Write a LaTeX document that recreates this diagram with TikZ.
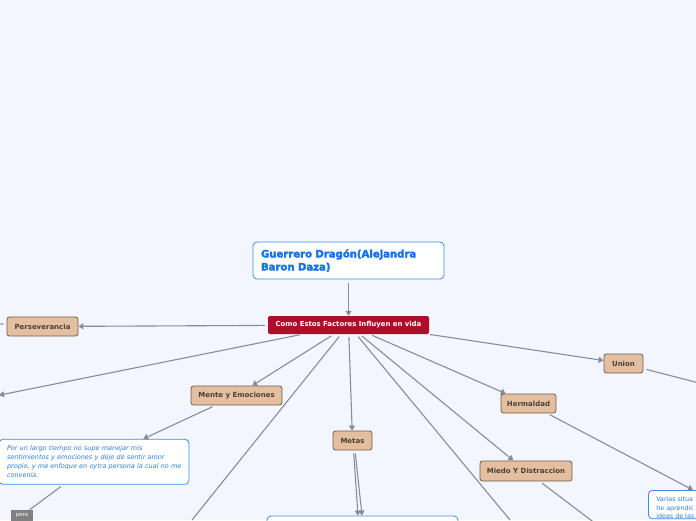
\documentclass[tikz,border=0pt]{standalone}
\usepackage{fontspec}
\setmainfont{DejaVu Sans}
\newfontfamily\titlefont[BoldFeatures={FakeBold=3}]{DejaVu Sans}
\usetikzlibrary{arrows.meta}
\definecolor{bg}{HTML}{F3F6FE}
\definecolor{titleblue}{HTML}{1A73E8}
\definecolor{boxblue}{HTML}{3A8DEA}
\definecolor{notetext}{HTML}{2B7FE0}
\definecolor{centralred}{HTML}{B00D2B}
\definecolor{topicfill}{HTML}{E3BF9F}
\definecolor{topicdraw}{HTML}{6E5C4A}
\definecolor{topictext}{HTML}{4A4035}
\definecolor{edgegray}{HTML}{8B8B93}
\definecolor{perogray}{HTML}{808080}
\begin{document}
\begin{tikzpicture}[x=1pt,y=-1pt,
  topic/.style={draw=topicdraw, fill=topicfill, rounded corners=2.5pt, line width=0.8pt,
    text=topictext, font=\fontsize{7}{8}\selectfont\bfseries, inner sep=0pt},
  central/.style={fill=centralred, rounded corners=2pt, text=white,
    font=\fontsize{6.9}{8}\selectfont\bfseries, inner sep=0pt},
  titlebox/.style={draw=boxblue, fill=white, rounded corners=4pt, line width=0.8pt,
    text=titleblue, font=\titlefont\fontsize{10.1}{13}\selectfont\bfseries, align=left,
    inner xsep=8pt, inner ysep=0pt},
  notebox/.style={draw=boxblue, fill=white, rounded corners=4pt, line width=0.8pt,
    text=notetext, align=left, inner xsep=8pt, inner ysep=0pt},
  perolabel/.style={fill=perogray, text=white, font=\fontsize{5.5}{7}\selectfont,
    inner sep=0pt, minimum width=22pt, minimum height=11pt},
  arr/.style={draw=edgegray, line width=1.1pt, -{Triangle[length=5pt,width=6pt]},
    shorten <=3pt},
  ln/.style={draw=edgegray, line width=1.1pt, shorten <=3pt}
]
\path[use as bounding box, fill=bg] (0,0) rectangle (696,520);
\clip (0,0) rectangle (696,520);

% nodes
\node[titlebox, minimum width=191pt, minimum height=37pt, text width=175pt] (title) at (348.5,260.5)
  {\mbox{Guerrero Dragón(Alejandra}\\Baron Daza)};
\node[central, minimum width=161pt, minimum height=18pt] (c) at (348.5,325)
  {Como Estos Factores Influyen en vida};
\node[topic, minimum width=71pt, minimum height=19pt] (pers) at (42.5,326.5) {Perseverancia};
\node[topic, minimum width=91pt, minimum height=19pt] (mente) at (236.5,395.5) {Mente y Emociones};
\node[topic, minimum width=39pt, minimum height=19pt] (metas) at (352.5,440.5) {Metas};
\node[topic, minimum width=55pt, minimum height=19pt] (herm) at (528.5,403.5) {Hermaldad};
\node[topic, minimum width=92pt, minimum height=20pt] (miedo) at (526,471) {Miedo Y Distraccion};
\node[topic, minimum width=39pt, minimum height=19pt] (union) at (623.5,363.5) {Union};

\node[notebox, minimum width=190pt, minimum height=45pt, text width=174pt,
  font=\fontsize{6.5}{9}\selectfont\itshape] (n1) at (94,461.8)
  {\mbox{Por un largo tiempo no supe manejar mis}\\\mbox{sentimientos y emociones y deje de sentir amor}\\\mbox{propio, y me enfoque en oytra persona la cual no me}\\convenía.};
\node[notebox, minimum width=191pt, minimum height=28pt] (n2) at (362.5,530) {};
\node[notebox, minimum width=110pt, text width=94pt,
  font=\fontsize{6.3}{8.6}\selectfont, anchor=north west] (n3) at (648,490)
  {\rule{0pt}{11pt}Varias situa\\he aprendic\\ideas de las};
\node[perolabel] (pero) at (22,515.5) {pero};

% free ends
\coordinate (offPers) at (-30,322);
\coordinate (offL) at (0,395);
\coordinate (offA) at (192,520);
\coordinate (offB) at (510,520);
\coordinate (offMiedo) at (600,527);
\coordinate (offUnion) at (730,391);

% connectors
\draw[arr, shorten <=4pt] (title) -- (c);
\draw[arr] (c) -- (pers);
\draw[ln] (pers) -- (offPers);
\draw[arr, shorten >=-1pt] (c) -- (offL);
\draw[arr] (c) -- (mente);
\draw[ln] (c) -- (offA);
\draw[arr] (c) -- (metas);
\draw[ln] (c) -- (offB);
\draw[arr] (c) -- (miedo);
\draw[arr] (c) -- (herm);
\draw[arr, shorten <=2pt] ([xshift=-1pt]c.south east) -- (union);
\draw[arr] (mente) -- (n1);
\draw[ln] (n1) -- (pero);
\draw[arr, shorten <=3pt] ([xshift=1pt]metas.south) -- ([xshift=-4.5pt]n2.north);
\draw[arr, shorten <=3pt] ([xshift=2.5pt]metas.south) -- ([xshift=-0.5pt]n2.north);
\draw[ln] (miedo) -- (offMiedo);
\draw[arr] (herm) -- ([xshift=45pt]n3.north west);
\draw[ln] (union) -- (offUnion);
\end{tikzpicture}
\end{document}
